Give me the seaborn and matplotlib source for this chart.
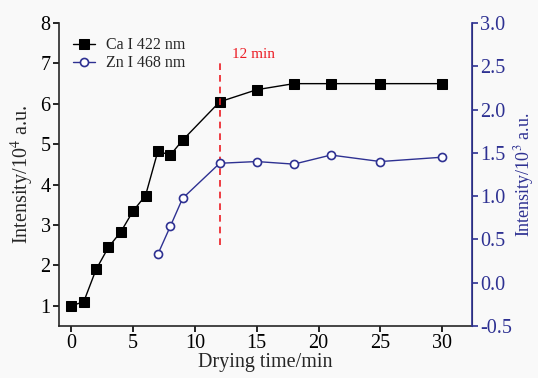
import numpy as np
import pandas as pd
import matplotlib
matplotlib.use("Agg")
import matplotlib.pyplot as plt
import seaborn as sns

# ------------------------------------------
# Data
# ------------------------------------------
ca_time = [0, 1, 2, 3, 4, 5, 6, 7, 8, 9, 12, 15, 18, 21, 25, 30]
ca_intensity = [1.0, 1.1, 1.9, 2.45, 2.83, 3.35, 3.73, 4.83, 4.73, 5.1, 6.05, 6.35, 6.5, 6.5, 6.5, 6.5]

zn_time = [7, 8, 9, 12, 15, 18, 21, 25, 30]
zn_intensity = [0.33, 0.65, 0.975, 1.38, 1.40, 1.37, 1.475, 1.40, 1.45]

x_ticks = [0, 5, 10, 15, 20, 25, 30]
left_ticks = [1, 2, 3, 4, 5, 6, 7, 8]
right_ticks = [-0.5, 0.0, 0.5, 1.0, 1.5, 2.0, 2.5, 3.0]

ca_df = pd.DataFrame({"time": ca_time, "val": ca_intensity})
zn_df = pd.DataFrame({"time": zn_time, "val": zn_intensity})

sns.set_style("ticks")
plt.rcParams["font.family"] = ["Liberation Serif", "DejaVu Serif"]
plt.rcParams["mathtext.fontset"] = "stix"

blue = "#2E3192"
red = "#EC1C24"
bg = "#F9F9F9"

fig = plt.figure(figsize=(5.38, 3.78), dpi=100, facecolor=bg)
ax = fig.add_axes([0.1097, 0.1376, 0.7673, 0.8014])
ax.set_facecolor(bg)
ax2 = ax.twinx()

sns.lineplot(data=ca_df, x="time", y="val", ax=ax, color="black", marker="s",
             markersize=7, markeredgecolor="black", linewidth=1.0,
             label="Ca I 422 nm", legend=False)
sns.lineplot(data=zn_df, x="time", y="val", ax=ax2, color=blue, marker="o",
             markersize=5.8, markerfacecolor="white", markeredgecolor=blue,
             markeredgewidth=1.2, linewidth=1.0, label="Zn I 468 nm", legend=False)

# 12 min marker
ax.plot([12, 12], [2.5, 7.05], color=red, linestyle=(0, (4, 3)), linewidth=1.2)
ax.text(13.0, 7.07, "12 min", color=red, fontsize=11, va="bottom", ha="left")

ax.set_xlim(-1.0, 32.4)
ax.set_ylim(0.5, 8)
ax2.set_ylim(-0.5, 3.0)
ax.set_xticks(x_ticks)
ax.set_yticks(left_ticks)
ax2.set_yticks(right_ticks)
ax2.set_yticklabels([f"{v:.1f}" for v in right_ticks])

ax.set_xlabel("Drying time/min", fontsize=14.5, labelpad=0)
ax.set_ylabel("Intensity/10$^4$ a.u.", fontsize=14.5, labelpad=3)
ax2.set_ylabel("Intensity/10$^3$ a.u.", fontsize=13, color=blue, labelpad=0)

for a in (ax, ax2):
    a.spines["top"].set_visible(False)
ax.tick_params(axis="both", direction="out", length=4, width=1.2, pad=2,
               labelsize=14.5, colors="black")
ax2.tick_params(axis="y", direction="out", length=4, width=1.2, pad=2,
                labelsize=14.5, colors=blue)
ax.spines["left"].set_linewidth(1.2)
ax.spines["bottom"].set_linewidth(1.2)
ax2.spines["right"].set_linewidth(1.2)
ax2.spines["right"].set_color(blue)
ax2.spines["left"].set_visible(False)
ax2.spines["bottom"].set_visible(False)

h1, l1 = ax.get_legend_handles_labels()
h2, l2 = ax2.get_legend_handles_labels()
ax.legend(h1 + h2, l1 + l2, loc="upper left", bbox_to_anchor=(0.01, 0.985),
          frameon=False, fontsize=11.5, handlelength=1.4, handletextpad=0.7,
          labelspacing=0.12, borderaxespad=0.2)

fig.savefig("out.png", dpi=100, facecolor=bg)
